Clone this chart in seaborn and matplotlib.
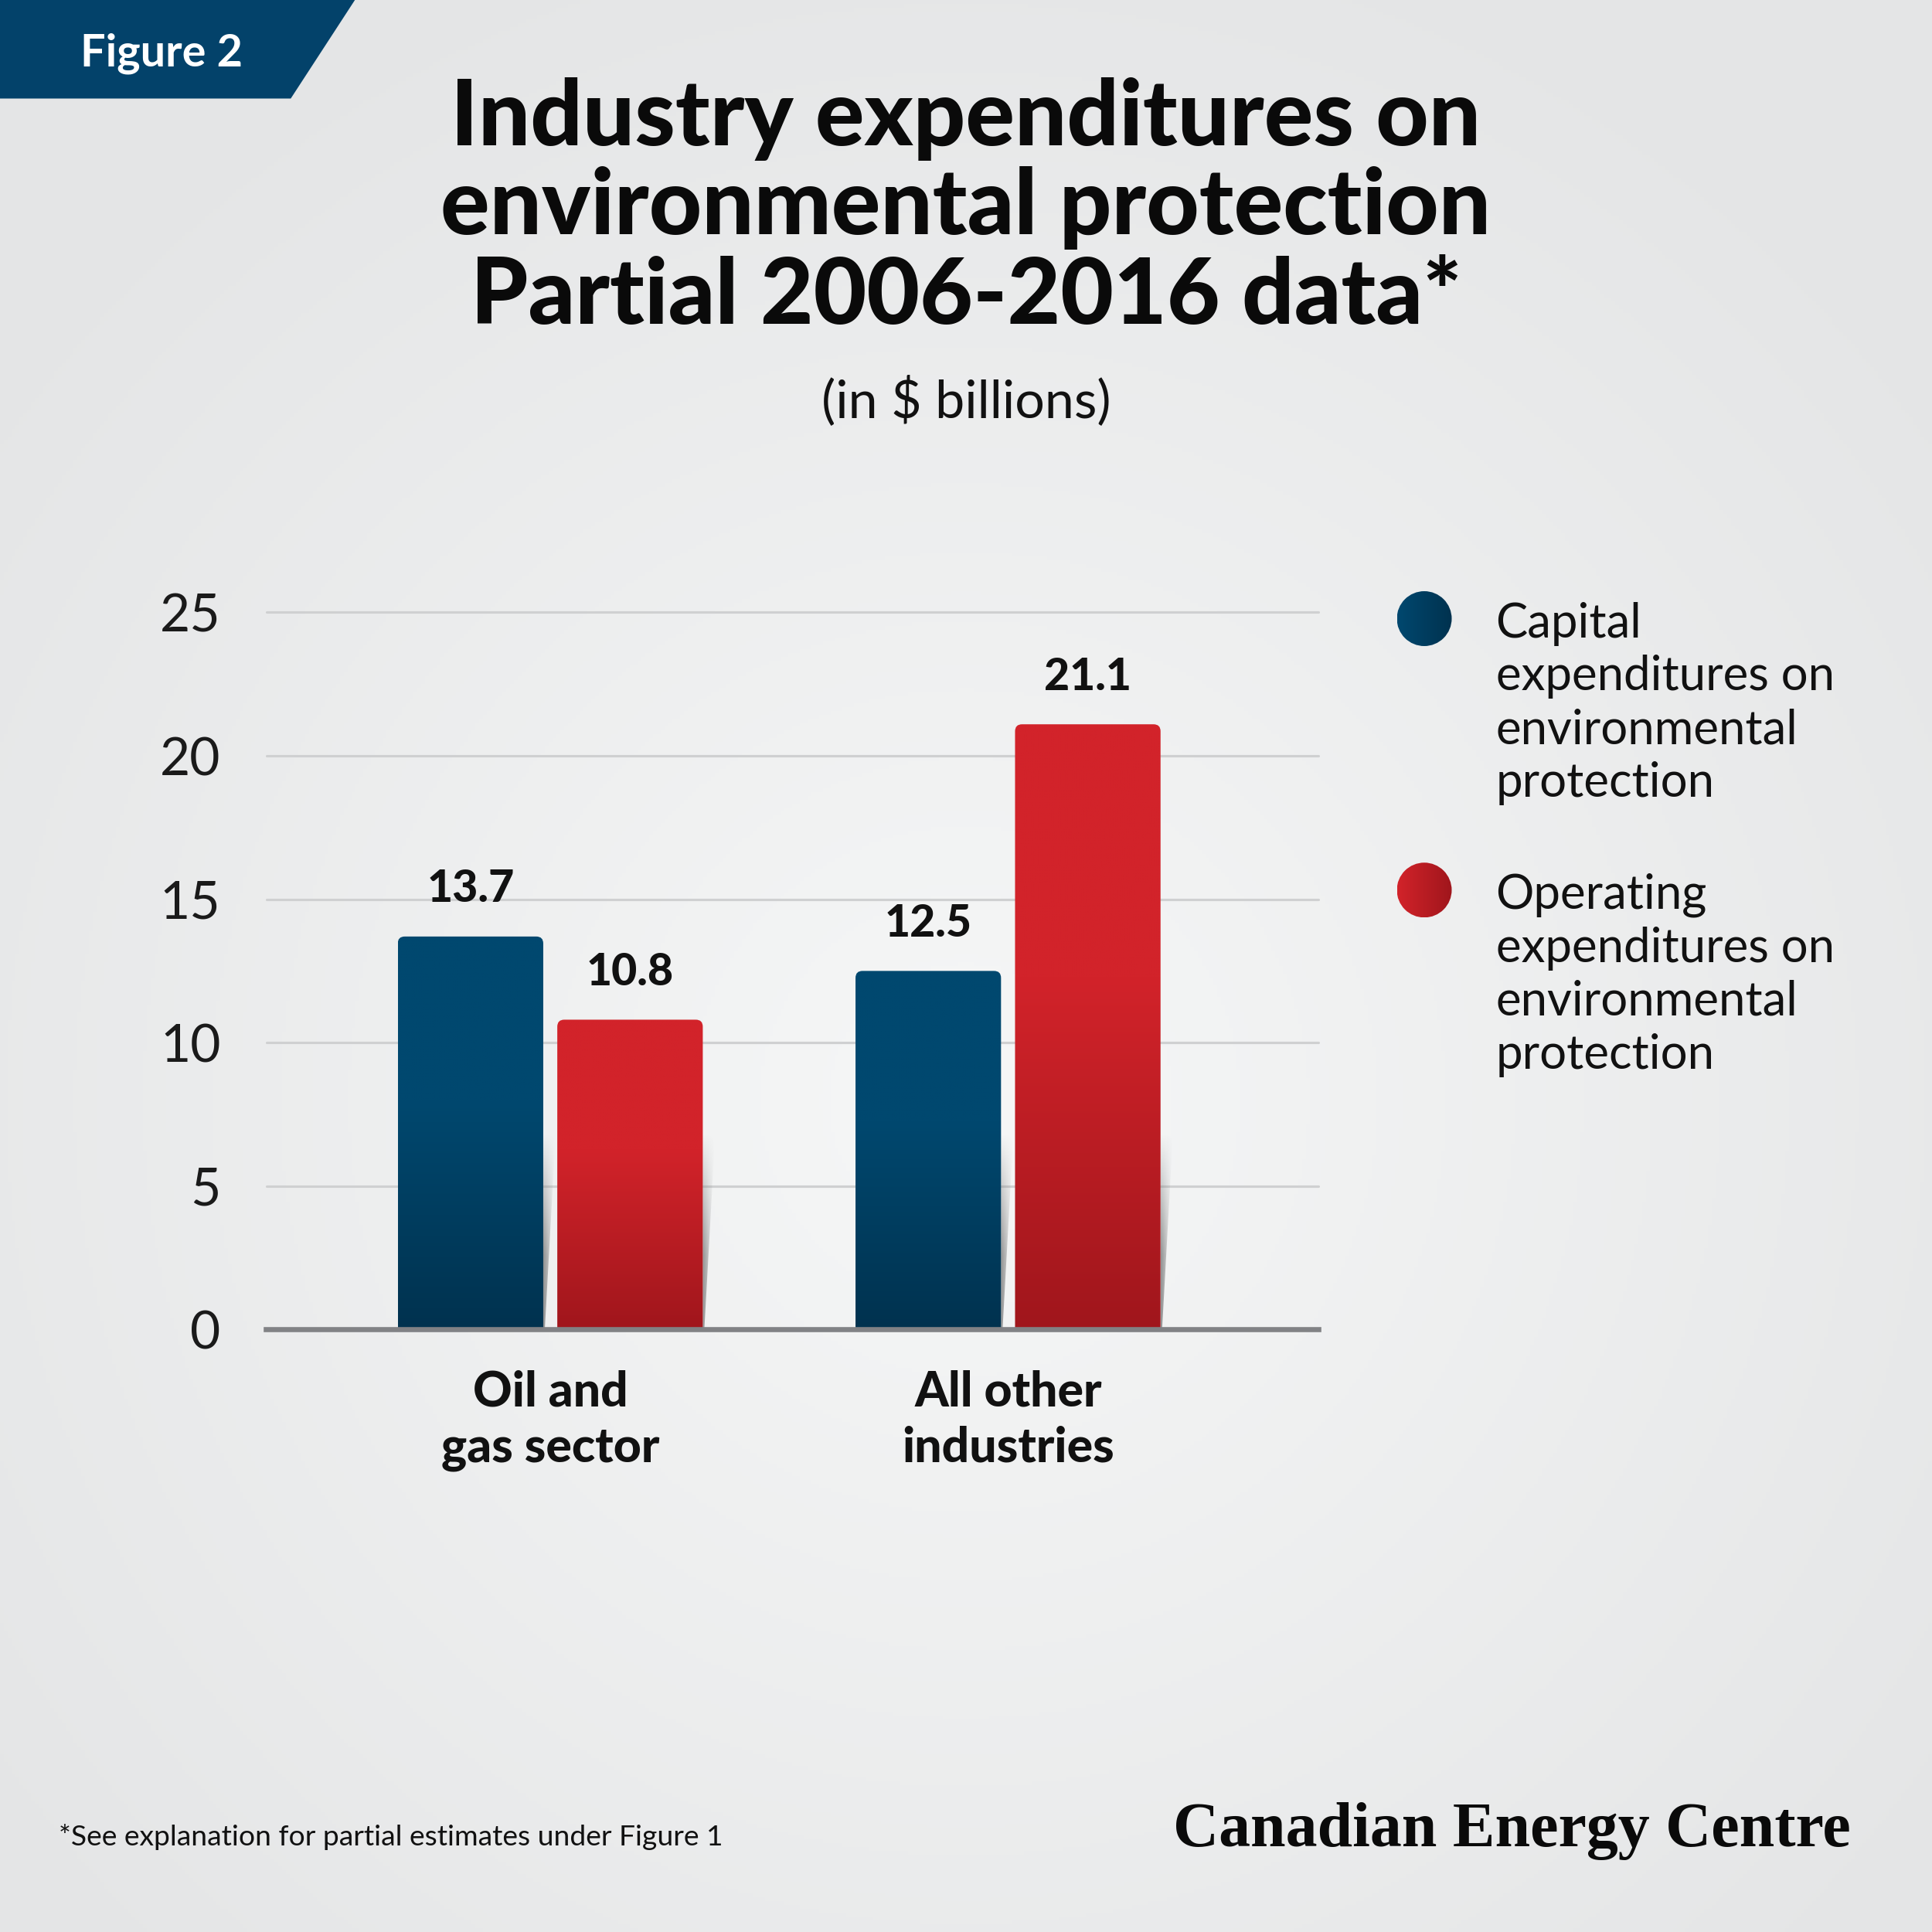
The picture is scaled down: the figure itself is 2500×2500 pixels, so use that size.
import numpy as np
import pandas as pd
import matplotlib
matplotlib.use("Agg")
import matplotlib.pyplot as plt
import seaborn as sns
from matplotlib.patches import Polygon, Circle, FancyBboxPatch
import matplotlib.colors as mcolors

# ---------------- data ----------------
categories = ["Oil and\ngas sector", "All other\nindustries"]
series_names = ["Capital\nexpenditures on\nenvironmental\nprotection",
                "Operating\nexpenditures on\nenvironmental\nprotection"]
capital = [13.7, 12.5]
operating = [10.8, 21.1]
y_ticks = [0, 5, 10, 15, 20, 25]

title_lines = ["Industry expenditures on", "environmental protection",
               "Partial 2006-2016 data*"]
subtitle = "(in $ billions)"
footnote = "*See explanation for partial estimates under Figure 1"
brand = "Canadian Energy Centre"
badge = "Figure 2"

df = pd.DataFrame({
    "category": categories * 2,
    "series": [series_names[0]] * 2 + [series_names[1]] * 2,
    "value": capital + operating,
})

# ---------------- style ----------------
BLUE_TOP, BLUE_BOT = "#00486f", "#00324f"
RED_TOP, RED_BOT = "#d2232a", "#a0161c"
BADGE = "#03426a"

sns.set_theme(style="white")
plt.rcParams['font.family'] = ['Lato', 'DejaVu Sans']

fig = plt.figure(figsize=(10, 10), dpi=250)
renderer = fig.canvas.get_renderer()

# background radial gradient
bg = fig.add_axes([0, 0, 1, 1], zorder=-10)
yy, xx = np.mgrid[0:1:500j, 0:1:500j]
r = np.sqrt(((xx - 0.5) / 0.8) ** 2 + ((yy - 0.57) / 0.8) ** 2)
r = np.clip(r / 0.8, 0, 1)
c_in = np.array(mcolors.to_rgb("#f6f7f7"))
c_out = np.array(mcolors.to_rgb("#e4e5e6"))
img = c_in[None, None, :] * (1 - r[..., None]) + c_out[None, None, :] * r[..., None]
bg.imshow(img, extent=(0, 1, 0, 1), aspect="auto", origin="upper")
bg.set_axis_off()

# ---------------- chart ----------------
ax = fig.add_axes([0.1378, 0.3119, 0.5446, 0.3711])
ax.patch.set_alpha(0)
sns.barplot(data=df, x="category", y="value", hue="series",
            palette=[BLUE_TOP, RED_TOP], saturation=1, width=0.697, gap=0.088,
            legend=False, ax=ax, zorder=3)

ax.set_xlim(-0.6205, 1.678)
ax.set_ylim(0, 25)
ax.set_yticks(y_ticks)
ax.yaxis.grid(True, color="#cfd0d1", lw=0.9, zorder=0)
ax.set_axisbelow(True)
for g in ax.get_ygridlines():
    g.set_clip_on(False)
for s in ["top", "right", "left"]:
    ax.spines[s].set_visible(False)
ax.spines["bottom"].set_color("#818285")
ax.spines["bottom"].set_linewidth(1.9)
ax.spines["bottom"].set_zorder(6)
ax.set_xlabel("")
ax.set_ylabel("")
ax.tick_params(axis="y", length=0, pad=17, labelsize=19.5, labelcolor="#1a1a1a")
ax.tick_params(axis="x", length=0, pad=15, labelsize=18)
for lab in ax.get_yticklabels():
    lab.set_fontweight("normal")
for lab in ax.get_xticklabels():
    lab.set_fontweight("black")
    lab.set_linespacing(1.3)
    lab.set_color("#111111")

# pixel -> data scale
fig.canvas.draw()
p0 = ax.transData.transform((0, 0))
p1 = ax.transData.transform((1, 1))
px_x = 1.0 / (p1[0] - p0[0])   # data x per pixel
px_y = 1.0 / (p1[1] - p0[1])   # data y per pixel
aspect = px_y / px_x

tops = [BLUE_TOP, RED_TOP]
bots = [BLUE_BOT, RED_BOT]
SHADOW_TOP = 6.8
for ci, cont in enumerate(ax.containers):
    ct = np.array(mcolors.to_rgb(tops[ci]))
    cb = np.array(mcolors.to_rgb(bots[ci]))
    for bar in cont:
        x, w, h = bar.get_x(), bar.get_width(), bar.get_height()
        bar.set_visible(False)
        # rounded clip shape
        rad = 9 * px_x
        clip = FancyBboxPatch((x, -2), w, h + 2,
                              boxstyle=f"round,pad=0,rounding_size={rad}",
                              mutation_aspect=aspect, transform=ax.transData,
                              facecolor="none", edgecolor="none")
        ax.add_patch(clip)
        n = 300
        t = np.linspace(0, 1, n)  # 0 top -> 1 bottom
        f = np.clip((t - 0.42) / 0.58, 0, 1)[:, None]
        grad = ct[None, :] * (1 - f) + cb[None, :] * f
        im = ax.imshow(grad[:, None, :], extent=(x, x + w, 0, h), aspect="auto",
                       origin="upper", zorder=4, interpolation="bilinear")
        im.set_clip_path(clip)
        # soft shadow to the right
        st = min(SHADOW_TOP, h)
        xr = x + w
        poly = Polygon([(xr, 0), (xr + 2 * px_x, 0), (xr + 16 * px_x, st), (xr, st)],
                       closed=True, transform=ax.transData, facecolor="none",
                       edgecolor="none")
        ax.add_patch(poly)
        sh = np.zeros((200, 40, 4))
        vy = np.linspace(0, 1, 200)[:, None]      # 0 top -> 1 bottom
        hx = np.linspace(0, 1, 40)[None, :]
        sh[..., :3] = 0.45
        sh[..., 3] = np.clip(vy * 1.6, 0, 1) * (1 - hx) * 0.75
        ims = ax.imshow(sh, extent=(xr, xr + 16 * px_x, 0, st), aspect="auto",
                        origin="upper", zorder=2, interpolation="bilinear")
        ims.set_clip_path(poly)
    ax.bar_label(cont, fmt="%.1f", padding=10, fontsize=16.5, fontweight="black",
                 color="#111111", zorder=7)

ax.set_xlim(-0.6205, 1.678)
ax.set_ylim(0, 25)

# ---------------- texts ----------------
def fit(t, target_px):
    w = t.get_window_extent(renderer).width
    t.set_fontsize(t.get_fontsize() * target_px / w)

ys = [0.9247, 0.8788, 0.8323]
tl = [fig.text(0.5, y, s, ha="center", va="baseline", fontsize=30,
               fontweight="black", color="#0a0a0a") for s, y in zip(title_lines, ys)]
fit(tl[1], 1358)
for t in tl:
    t.set_fontsize(tl[1].get_fontsize())

st_ = fig.text(0.5, 0.7838, subtitle, ha="center", va="baseline", fontsize=19,
               fontweight="normal", color="#111111")
fit(st_, 375)

fn = fig.text(0.0306, 0.0448, footnote, ha="left", va="baseline", fontsize=10,
              color="#111111")
fit(fn, 861)

br = fig.text(0.958, 0.0443, brand, ha="right", va="baseline", fontsize=24,
              fontweight="bold", family=["Liberation Serif", "DejaVu Serif"],
              color="#0a0a0a")
fit(br, 877)

# badge
fig.patches.append(Polygon([(0, 1), (0.1837, 1), (0.1505, 0.949), (0, 0.949)],
                           closed=True, transform=fig.transFigure,
                           facecolor=BADGE, edgecolor="none", zorder=1))
bt = fig.text(0.0415, 0.966, badge, ha="left", va="baseline", fontsize=15,
              fontweight="bold", color="white")
fit(bt, 210)

# ---------------- legend ----------------
leg_base = [0.6702, 0.5297]
line_step = 69 / 2500
pal = [(BLUE_TOP, BLUE_BOT), (RED_TOP, RED_BOT)]
leg_texts = []
for i, name in enumerate(series_names):
    for j, line in enumerate(name.split("\n")):
        t = fig.text(0.7742, leg_base[i] - j * line_step, line, ha="left",
                     va="baseline", fontsize=17.5, color="#111111")
        leg_texts.append(t)
    # gradient circle
    cax = fig.add_axes([0.7372 - 0.0142, leg_base[i] + 0.0096 - 0.0142, 0.0284, 0.0284])
    cax.set_axis_off()
    c1 = np.array(mcolors.to_rgb(pal[i][0]))
    c2 = np.array(mcolors.to_rgb(pal[i][1]))
    u = np.linspace(0, 1, 100)[None, :, None]
    gimg = np.repeat(c1 * (1 - u) + c2 * u, 100, axis=0)
    im = cax.imshow(gimg, extent=(0, 1, 0, 1), aspect="auto")
    circ = Circle((0.5, 0.5), 0.5, transform=cax.transAxes, facecolor="none",
                  edgecolor="none")
    cax.add_patch(circ)
    im.set_clip_path(circ)
    cax.set_xlim(0, 1)
    cax.set_ylim(0, 1)

wref = leg_texts[1].get_window_extent(renderer).width
scale = 438 / wref
for t in leg_texts:
    t.set_fontsize(t.get_fontsize() * scale)

fig.savefig("out.png", dpi=250)
